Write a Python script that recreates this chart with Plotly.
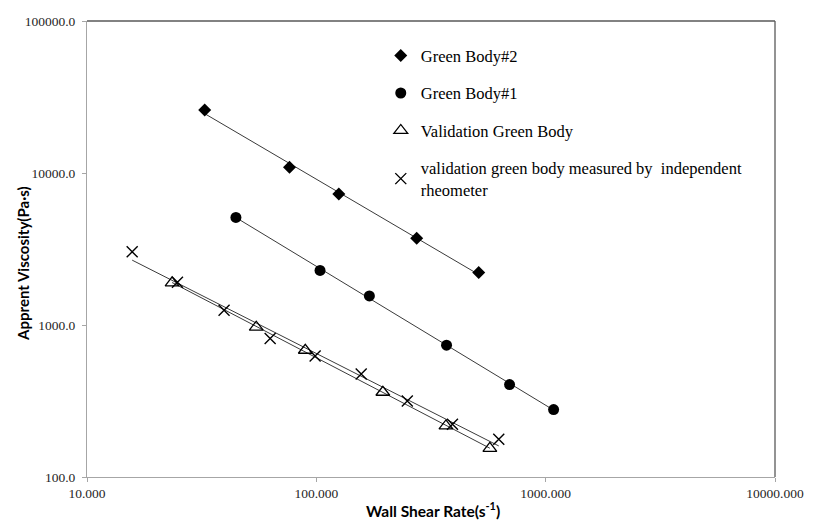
import numpy as np
import plotly.graph_objects as go

# ---- data ----
gb2_x = [32.6, 76.4, 125.3, 273.9, 510.6]
gb2_y = [25950, 10890, 7263, 3727, 2217]

gb1_x = [44.6, 103.8, 170.3, 369.6, 696, 1083]
gb1_y = [5103, 2285, 1554, 736, 405.8, 277.8]

val_x = [23.5, 54.7, 89.5, 195, 367.4, 571]
val_y = [1893, 967, 682, 361, 216.7, 154.5]

rheo_x = [15.74, 24.8, 39.6, 62.9, 98.8, 156.9, 249.3, 392.3, 624.4]
rheo_y = [3029, 1913, 1251, 815, 626, 476.5, 316.5, 222.3, 177]

x_ticks = [10, 100, 1000, 10000]
x_tick_text = ["10.000", "100.000", "1000.000", "10000.000"]
y_ticks = [100, 1000, 10000, 100000]
y_tick_text = ["100.0", "1000.0", "10000.0", "100000.0"]

names = ["Green Body#2", "Green Body#1", "Validation Green Body",
         "validation green body measured by  independent<br>rheometer"]

x_title = "<b>Wall Shear Rate(s<sup>-1</sup>)</b>"
y_title = "<b>Apprent Viscosity(Pa·s)</b>"

series = [
    (gb2_x, gb2_y, dict(symbol="diamond", size=10, color="black")),
    (gb1_x, gb1_y, dict(symbol="circle", size=11, color="black")),
    (val_x, val_y, dict(symbol="triangle-up-open", size=12, color="black",
                        line=dict(width=1.3, color="black"))),
    (rheo_x, rheo_y, dict(symbol="x-thin-open", size=11, color="black",
                          line=dict(width=1.4, color="black"))),
]

SERIF = '"Liberation Serif", "Times New Roman", "DejaVu Serif", serif'
SANS = '"Lato", "Open Sans", sans-serif'

fig = go.Figure()

# power-law trendlines (fit in log-log space, drawn across data range)
for xs, ys, _ in series:
    lx, ly = np.log10(xs), np.log10(ys)
    b, a = np.polyfit(lx, ly, 1)
    xe = np.array([min(xs), max(xs)])
    ye = 10 ** (a + b * np.log10(xe))
    fig.add_trace(go.Scatter(x=xe, y=ye, mode="lines", showlegend=False,
                             line=dict(color="#3a3a3a", width=1),
                             hoverinfo="skip"))

for i, ((xs, ys, mk), nm) in enumerate(zip(series, names)):
    fig.add_trace(go.Scatter(x=xs, y=ys, mode="markers", name=nm,
                             marker=mk, legendgroup=f"g{i}"))

axis_font = dict(family=SERIF, size=13.5, color="#262626")

fig.update_xaxes(type="log", range=[1, 4], tickvals=x_ticks, ticktext=x_tick_text,
                 showgrid=False, zeroline=False, showline=True, linecolor="#a6a6a6",
                 linewidth=1, ticks="outside", ticklen=4, tickcolor="#a6a6a6",
                 tickfont=axis_font)
fig.update_yaxes(type="log", range=[2, 5], tickvals=y_ticks, ticktext=y_tick_text,
                 showgrid=False, zeroline=False, showline=True, linecolor="#a6a6a6",
                 linewidth=1, ticks="outside", ticklen=4, tickcolor="#a6a6a6",
                 tickfont=axis_font, ticklabelstandoff=4)

# axis titles
fig.add_annotation(text=x_title, xref="paper", yref="paper", x=0.503, y=-0.072,
                   xanchor="center", yanchor="middle", showarrow=False,
                   font=dict(family=SANS, size=15.5, color="black"))
fig.add_annotation(text=y_title, xref="paper", yref="paper", x=-0.094, y=0.468,
                   xanchor="center", yanchor="middle", showarrow=False, textangle=-90,
                   font=dict(family=SANS, size=15, color="black"))

# top and right frame of the plot area
fig.add_shape(type="line", xref="x domain", yref="y domain", x0=0, x1=1, y0=1, y1=1,
              line=dict(color="#595959", width=1.3))
fig.add_shape(type="line", xref="x domain", yref="y domain", x0=1, x1=1, y0=0, y1=1,
              line=dict(color="#595959", width=1.3))

fig.update_layout(
    width=816, height=523,
    margin=dict(l=87, r=31, t=21, b=46),
    plot_bgcolor="white", paper_bgcolor="white",
    legend=dict(x=0.427, y=0.962, xanchor="left", yanchor="top",
                font=dict(family=SERIF, size=16.5, color="black"),
                bgcolor="rgba(0,0,0,0)", traceorder="grouped", tracegroupgap=13),
)

fig.write_html("out.html")
